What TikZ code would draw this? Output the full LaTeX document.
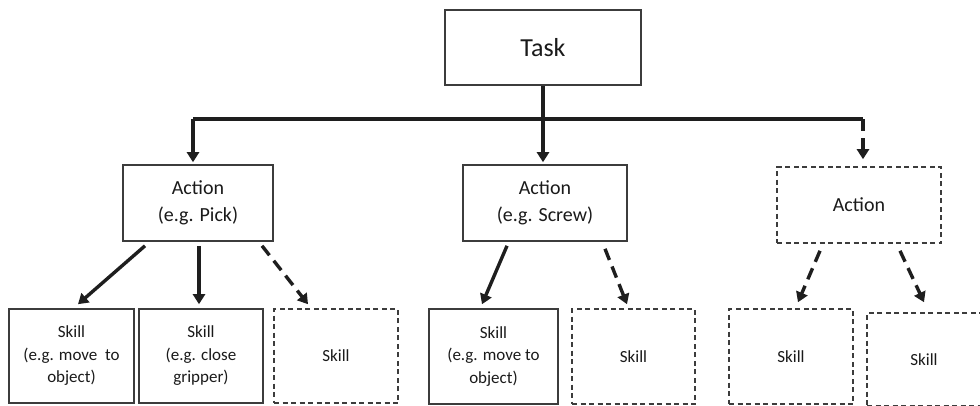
\documentclass[tikz,border=0pt]{standalone}
\usepackage{fontspec}
\setmainfont{Carlito}
\usetikzlibrary{arrows.meta,calc}

\definecolor{boxc}{HTML}{3C3C3C}
\definecolor{arrc}{HTML}{1E1E1E}
\definecolor{txtc}{HTML}{1A1A1A}

\tikzset{
  box/.style={draw=boxc, line width=1.6pt, fill=white, align=center,
              inner sep=0pt, text=txtc},
  dbox/.style={box, dash pattern=on 5pt off 3.5pt},
  taskbox/.style={box, minimum width=196pt, minimum height=75pt,
                  font=\fontsize{26}{31}\selectfont},
  actbox/.style={box, minimum height=76pt,
                 font=\fontsize{20}{27}\selectfont},
  skillbox/.style={box, minimum height=94pt,
                   font=\fontsize{17}{22.5}\selectfont},
  bus/.style={draw=arrc, line width=3.4pt},
  arr/.style={draw=arrc, line width=3.4pt,
              -{Triangle[length=10pt,width=12pt]}},
  darr/.style={arr, dash pattern=on 12pt off 7pt},
}

\begin{document}
\begin{tikzpicture}[x=1pt, y=-1pt]
  \useasboundingbox (0,0) rectangle (980,405);
  \clip (0,0) rectangle (980,405);

  % top level
  \node[taskbox] (task) at (543,47.5) {Task};

  % actions
  \node[actbox, minimum width=150pt] (act1) at (198,203) {Action\\(e.g. Pick)};
  \node[actbox, minimum width=164pt] (act2) at (545,203) {Action\\(e.g. Screw)};
  \node[actbox, dbox, minimum width=164pt] (act3) at (859,205) {Action};

  % skills
  \node[skillbox, minimum width=125pt] (sk1) at (71.5,356) {Skill\\(e.g. move\ \ to\\object)};
  \node[skillbox, minimum width=124pt] (sk2) at (201,356) {Skill\\(e.g. close\\gripper)};
  \node[skillbox, dbox, minimum width=124pt] (sk3) at (336,356) {Skill};
  \node[skillbox, minimum width=129pt, minimum height=95pt] (sk4) at (493.5,356.5) {Skill\\(e.g. move to\\object)};
  \node[skillbox, dbox, minimum width=123pt, minimum height=95pt] (sk5) at (633.5,356.5) {Skill};
  \node[skillbox, dbox, minimum width=124pt, minimum height=95pt] (sk6) at (791,356.5) {Skill};
  \node[skillbox, dbox, minimum width=114pt, minimum height=93pt] (sk7) at (924,359.5) {Skill};

  % distribution bus below the task
  \coordinate (busL) at (193,119);
  \coordinate (busR) at (863,119);
  \draw[bus] (task.south) -- (task.south |- busL);
  \draw[bus] (busR) -- (busL);
  \draw[arr] (busL) -- ([yshift=2pt]busL |- act1.north);
  \draw[arr] (task.south |- busL) -- ([yshift=2pt]task.south |- act2.north);
  \draw[darr] (busR) -- ([yshift=7pt]busR |- act3.north);

  % actions to skills
  \draw[arr]  ([xshift=-53pt,yshift=-4pt]act1.south) -- ([xshift=6.5pt,yshift=4pt]sk1.north);
  \draw[arr]  ([xshift=1pt,yshift=-4pt]act1.south) -- ([xshift=-2pt,yshift=4pt]sk2.north);
  \draw[darr] ([xshift=64pt,yshift=-4pt]act1.south) -- ([xshift=-28pt,yshift=4pt]sk3.north);
  \draw[arr]  ([xshift=-38pt,yshift=-4pt]act2.south) -- ([xshift=-11.5pt,yshift=4pt]sk4.north);
  \draw[darr] ([xshift=60pt,yshift=-7pt]act2.south) -- ([xshift=-6.5pt,yshift=4pt]sk5.north);
  \draw[darr] ([xshift=-39pt,yshift=-7pt]act3.south) -- ([xshift=7pt,yshift=6pt]sk6.north);
  \draw[darr] ([xshift=41pt,yshift=-7pt]act3.south) -- ([yshift=10pt]sk7.north);
\end{tikzpicture}
\end{document}
